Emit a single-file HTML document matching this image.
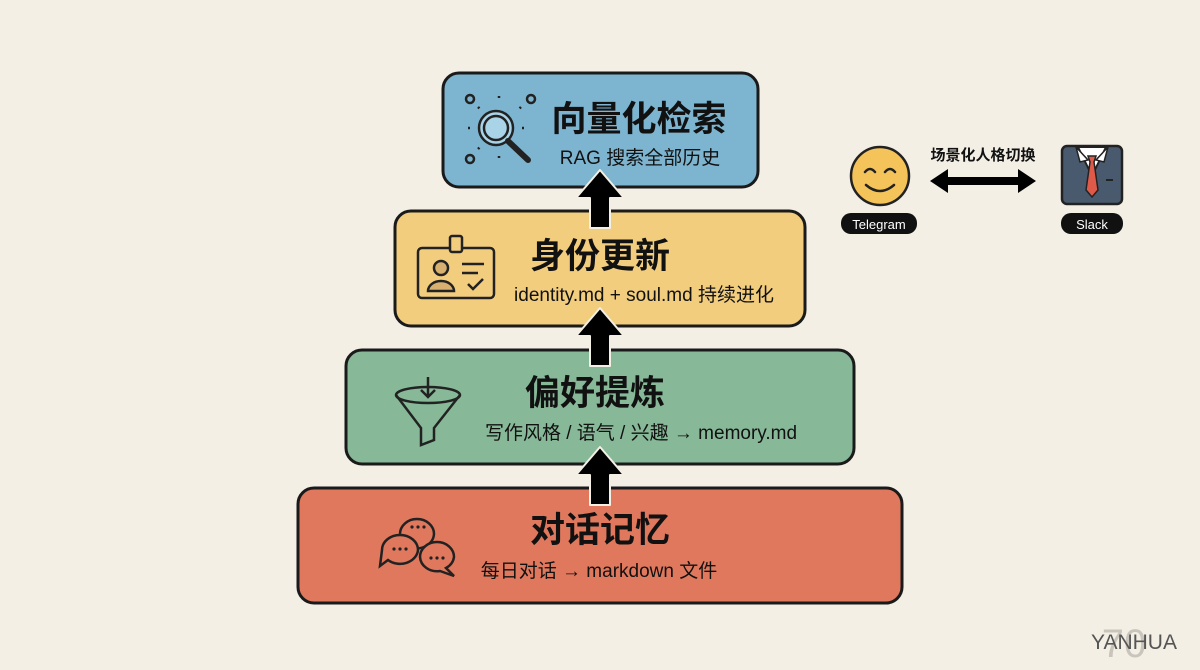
<!DOCTYPE html>
<html><head><meta charset="utf-8"><style>
html,body{margin:0;padding:0;background:#f3efe5;}
svg{display:block}
text{font-family:"Liberation Sans","Noto Sans CJK SC",sans-serif;fill:#111}
.t{font-weight:bold;font-size:35px}
.s{font-size:19px}
</style></head><body>
<svg width="1200" height="670" viewBox="0 0 1200 670" xmlns="http://www.w3.org/2000/svg">
<rect width="1200" height="670" fill="#f3efe5"/>
<!-- boxes -->
<rect x="443" y="73" width="315" height="114" rx="16" fill="#7db4cf" stroke="#1a1a1a" stroke-width="3"/>
<rect x="395" y="211" width="410" height="115" rx="16" fill="#f2cd7e" stroke="#1a1a1a" stroke-width="3"/>
<rect x="346" y="350" width="508" height="114" rx="16" fill="#87b898" stroke="#1a1a1a" stroke-width="3"/>
<rect x="298" y="488" width="604" height="115" rx="16" fill="#e0785d" stroke="#1a1a1a" stroke-width="3"/>
<!-- arrows -->
<g fill="#000" stroke="#f3efe5" stroke-width="2" stroke-linejoin="round">
<path d="M600 170 L624 198 L610 198 L610 228 L590 228 L590 198 L576 198 Z"/>
<path d="M600 308 L624 336 L610 336 L610 366 L590 366 L590 336 L576 336 Z"/>
<path d="M600 447 L624 475 L610 475 L610 505 L590 505 L590 475 L576 475 Z"/>
</g>
<!-- texts -->
<text class="t" x="639" y="131" text-anchor="middle">向量化检索</text>
<text class="s" x="640" y="164" text-anchor="middle">RAG 搜索全部历史</text>
<text class="t" x="600" y="268" text-anchor="middle">身份更新</text>
<text class="s" x="644" y="301" text-anchor="middle">identity.md + soul.md 持续进化</text>
<text class="t" x="595" y="405" text-anchor="middle">偏好提炼</text>
<text class="s" x="641" y="439" text-anchor="middle">写作风格 / 语气 / 兴趣 → memory.md</text>
<text class="t" x="600" y="542" text-anchor="middle">对话记忆</text>
<text class="s" x="599" y="577" text-anchor="middle">每日对话 → markdown 文件</text>
<!-- magnifier icon -->
<g stroke="#222" stroke-width="2.5" fill="none">
<circle cx="496" cy="128" r="17" fill="#a9d3e6"/>
<circle cx="496" cy="128" r="12"/>
<line x1="508" y1="141" x2="528" y2="160" stroke-width="6" stroke-linecap="round"/>
<circle cx="470" cy="99" r="4"/><circle cx="531" cy="99" r="4"/><circle cx="470" cy="159" r="4"/>
<path d="M499 96v5M478 107l3 3M521 107l-3 3M468 128h5M522 128h5M499 156v5M478 149l3-3" stroke-dasharray="2 3"/>
</g>
<!-- id card -->
<g stroke="#222" stroke-width="2.5" fill="none">
<rect x="418" y="248" width="76" height="50" rx="4"/>
<rect x="450" y="236" width="12" height="16" rx="2" fill="#f2cd7e"/>
<circle cx="441" cy="268" r="7" fill="#d8b070"/>
<path d="M428 291 a13 10 0 0 1 26 0 Z" fill="#d8b070"/>
<path d="M462 264h22M462 273h16M468 284l5 5 10-10"/>
</g>
<!-- funnel -->
<g stroke="#222" stroke-width="2.5" fill="none">
<ellipse cx="428" cy="395" rx="32" ry="8"/>
<path d="M396 395 L421 428 L421 445 L434 440 L434 428 L460 395"/>
<path d="M428 377v20M421 390l7 7 7-7"/>
</g>
<!-- chat bubbles -->
<g stroke="#222" stroke-width="2.5" fill="#e0785d">
<path d="M400 534 a17 15 0 1 1 34 0 a17 15 0 0 1 -30 9 l-6 4 z"/>
<path d="M382 550 a18 15 0 1 1 36 0 a18 15 0 0 1 -30 10 l-8 6 z"/>
<path d="M420 557 a17 15 0 1 1 34 0 l0 0 a17 15 0 0 1 -8 11 l8 8 -14 -5 a17 15 0 0 1 -20 -14 z"/>
</g>
<g fill="#222"><circle cx="412" cy="527" r="1.6"/><circle cx="418" cy="527" r="1.6"/><circle cx="424" cy="527" r="1.6"/>
<circle cx="394" cy="549" r="1.6"/><circle cx="400" cy="549" r="1.6"/><circle cx="406" cy="549" r="1.6"/>
<circle cx="431" cy="558" r="1.6"/><circle cx="437" cy="558" r="1.6"/><circle cx="443" cy="558" r="1.6"/></g>
<!-- right side -->
<text x="983" y="160" text-anchor="middle" font-size="15" font-weight="bold">场景化人格切换</text>
<path d="M930 181 L948 169 L948 177 L1018 177 L1018 169 L1036 181 L1018 193 L1018 185 L948 185 L948 193 Z" fill="#000"/>
<circle cx="880" cy="176" r="29" fill="#f4c45a" stroke="#222" stroke-width="2.5"/>
<g stroke="#222" stroke-width="2.5" fill="none" stroke-linecap="round">
<path d="M865 172 q5 -6 10 0M885 172 q5 -6 10 0M866 185 q14 12 28 0"/></g>
<rect x="841" y="213" width="76" height="21" rx="10" fill="#111"/>
<text x="879" y="229" text-anchor="middle" font-size="13" style="fill:#fff">Telegram</text>
<!-- suit -->
<rect x="1062" y="146" width="60" height="58" rx="5" fill="#4a5a6e" stroke="#222" stroke-width="2.5"/>
<path d="M1078 147 L1092 176 L1106 147 Z" fill="#fff" stroke="#222" stroke-width="2"/>
<path d="M1088 156 L1096 156 L1094 162 L1098 190 L1092 197 L1086 190 L1090 162 Z" fill="#e05a4a" stroke="#222" stroke-width="1.5"/>
<path d="M1076 147 L1088 160 L1080 162 Z M1108 147 L1096 160 L1104 162 Z" fill="#fff" stroke="#222" stroke-width="1.5"/>
<line x1="1106" y1="180" x2="1113" y2="180" stroke="#222" stroke-width="2"/>
<rect x="1061" y="213" width="62" height="21" rx="10" fill="#111"/>
<text x="1092" y="229" text-anchor="middle" font-size="13" style="fill:#fff">Slack</text>
<!-- watermark -->
<text x="1124" y="657" text-anchor="middle" font-size="40" style="fill:#c9c5bc">70</text>
<text x="1134" y="649" text-anchor="middle" font-size="21" style="fill:#555">YANHUA</text>
</svg>
</body></html>
